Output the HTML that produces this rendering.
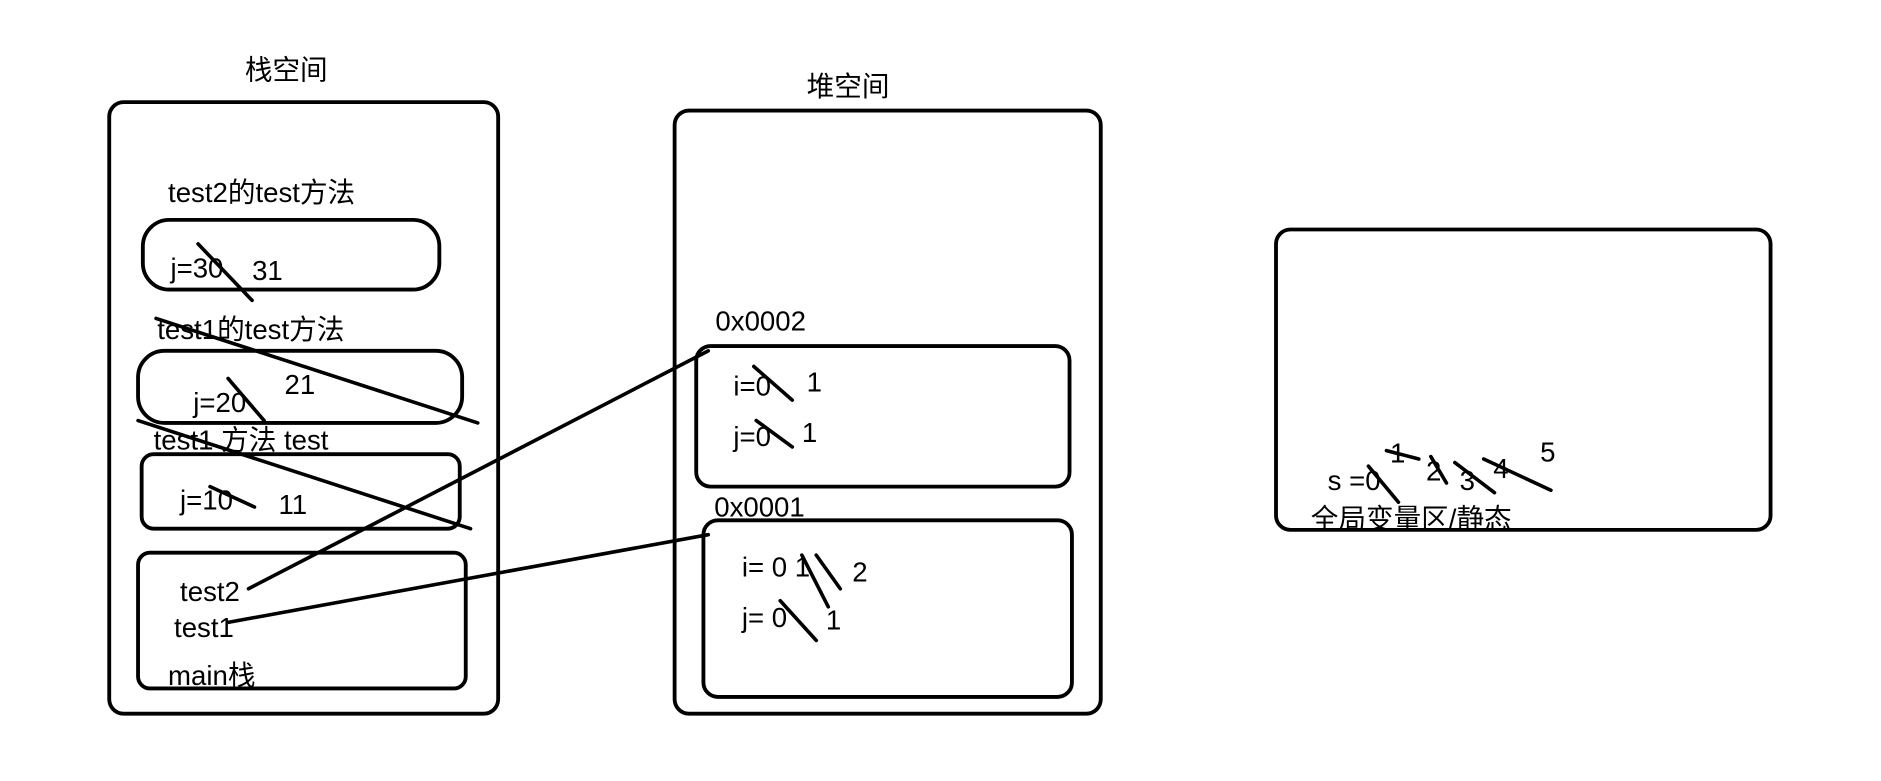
<!DOCTYPE html>
<html><head><meta charset="utf-8"><style>
html,body{margin:0;padding:0;background:#fff;}
svg{display:block;}
text{font-family:"Liberation Sans","Noto Sans CJK SC",sans-serif;font-size:23px;fill:#000;}
.b{fill:none;stroke:#000;stroke-width:3.2;}
.l{stroke:#000;stroke-width:3;stroke-linecap:round;}
</style></head><body>
<svg width="1881" height="781" viewBox="0 0 1567 650" preserveAspectRatio="none">
<g>
<text x="204" y="66">栈空间</text>
<rect class="b" x="91" y="85" width="324" height="509" rx="12"/>
<text x="140" y="168">test2的test方法</text>
<rect class="b" x="119" y="183" width="247" height="58" rx="22"/>
<text x="142" y="231">j=30</text><text x="210" y="233">31</text>
<line class="l" x1="165" y1="203" x2="210" y2="250"/>
<text x="131" y="282">test1的test方法</text>
<rect class="b" x="115" y="292" width="270" height="60" rx="22"/>
<text x="161" y="343">j=20</text><text x="237" y="328">21</text>
<line class="l" x1="190" y1="315" x2="220" y2="350"/>
<line class="l" x1="130" y1="265" x2="398" y2="352"/>
<text x="128" y="374">test1 方法 test</text>
<rect class="b" x="118" y="378" width="265" height="62" rx="10"/>
<text x="150" y="424">j=10</text><text x="232" y="428">11</text>
<line class="l" x1="175" y1="405" x2="212" y2="422"/>
<line class="l" x1="115" y1="350" x2="392" y2="440"/>
<rect class="b" x="115" y="460" width="273" height="113" rx="10"/>
<text x="150" y="500">test2</text><text x="145" y="530">test1</text><text x="140" y="570">main栈</text>
</g>
<g>
<text x="672" y="80">堆空间</text>
<rect class="b" x="562" y="92" width="355" height="502" rx="12"/>
<text x="596" y="275">0x0002</text>
<rect class="b" x="580" y="288" width="311" height="117" rx="12"/>
<text x="611" y="329">i=0</text><text x="672" y="326">1</text>
<text x="611" y="371">j=0</text><text x="668" y="368">1</text>
<line class="l" x1="628" y1="305" x2="660" y2="333"/>
<line class="l" x1="630" y1="350" x2="660" y2="372"/>
<text x="595" y="430">0x0001</text>
<rect class="b" x="586" y="433" width="307" height="147" rx="12"/>
<text x="618" y="480">i= 0 1</text><text x="710" y="484">2</text>
<text x="618" y="522">j= 0</text><text x="688" y="524">1</text>
<line class="l" x1="668" y1="462" x2="690" y2="505"/>
<line class="l" x1="680" y1="462" x2="700" y2="490"/>
<line class="l" x1="650" y1="500" x2="680" y2="533"/>
</g>
<line class="l" x1="207" y1="490" x2="590" y2="292"/>
<line class="l" x1="190" y1="518" x2="590" y2="445"/>
<g>
<rect class="b" x="1063" y="191" width="412" height="250" rx="12"/>
<text x="1106" y="408">s =0</text><text x="1158" y="385">1</text><text x="1188" y="400">2</text>
<text x="1216" y="408">3</text><text x="1244" y="398">4</text><text x="1283" y="384">5</text>
<line class="l" x1="1140" y1="388" x2="1165" y2="418"/>
<line class="l" x1="1155" y1="375" x2="1182" y2="382"/>
<line class="l" x1="1192" y1="380" x2="1205" y2="402"/>
<line class="l" x1="1212" y1="385" x2="1245" y2="410"/>
<line class="l" x1="1236" y1="382" x2="1292" y2="408"/>
<text x="1092" y="440">全局变量区/静态</text>
</g>
</svg>
</body></html>
